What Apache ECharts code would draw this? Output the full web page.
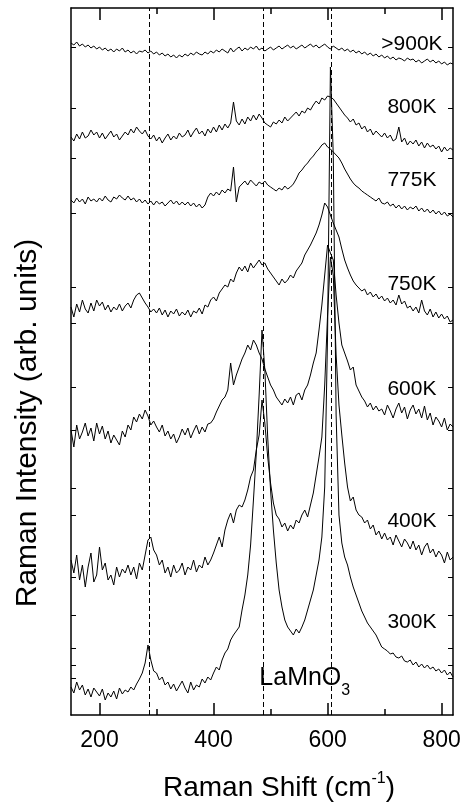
<!DOCTYPE html>
<html>
<head>
<meta charset="utf-8">
<title>Raman spectra LaMnO3</title>
<script src="https://cdn.jsdelivr.net/npm/echarts@6.0.0/dist/echarts.min.js"></script>
<style>
  html, body { margin: 0; padding: 0; background: #fff; }
  #main { width: 463px; height: 807px; }
</style>
</head>
<body>
<div id="main"></div>
<script>
// Raman shift sampling (cm-1)
var ramanShift = [
	150,155,160,165,170,175,180,185,190,195,
	200,205,210,215,220,225,230,235,240,245,
	250,255,260,265,270,275,280,285,290,295,
	300,305,310,315,320,325,330,335,340,345,
	350,355,360,365,370,375,380,385,390,395,
	400,405,410,415,420,425,430,435,440,445,
	450,455,460,465,470,475,480,485,490,495,
	500,505,510,515,520,525,530,535,540,545,
	550,555,560,565,570,575,580,585,590,595,
	600,605,610,615,620,625,630,635,640,645,
	650,655,660,665,670,675,680,685,690,695,
	700,705,710,715,720,725,730,735,740,745,
	750,755,760,765,770,775,780,785,790,795,
	800,805,810,815,820
];

// 强度(已叠加偏移, arb. units)
var t900 = [
	672,670,673,669,671,668,670,667,669,666,
	668,665,667,664,666,663,666,664,667,663,
	665,662,664,661,664,663,665,662,664,661,
	663,660,662,659,661,658,660,657,660,658,
	661,659,662,660,663,661,660,663,661,664,
	662,665,663,666,664,662,667,663,666,668,
	664,667,665,668,666,669,665,667,664,666,
	668,665,667,669,666,668,670,667,669,666,
	668,670,667,669,671,668,670,667,669,671,
	668,666,669,667,665,667,664,666,663,665,
	662,664,661,663,660,662,659,661,658,660,
	657,659,656,658,655,657,656,654,657,655,
	656,653,655,652,654,656,653,655,652,654,
	651,653,650,652,651
];
var t800 = [
	578,574,581,576,583,577,579,585,580,583,
	577,582,576,580,584,578,581,575,579,583,
	580,586,582,588,584,581,585,579,576,580,
	574,578,572,577,581,575,579,576,582,578,
	580,585,578,583,587,581,584,579,586,582,
	588,583,590,585,591,587,592,613,594,590,
	596,591,598,594,600,595,601,597,592,590,
	588,593,591,595,592,598,594,597,600,603,
	599,604,602,607,605,610,614,611,617,615,
	619,618,616,612,608,604,600,597,593,596,
	590,592,586,589,583,586,580,584,581,578,
	582,577,580,574,576,588,573,577,570,574,
	571,575,569,573,567,572,568,570,566,569,
	563,568,564,567,565
];
var t775 = [
	515,512,517,513,516,511,518,514,516,513,
	517,514,519,515,513,518,516,520,517,515,
	519,515,517,513,516,512,515,511,514,510,
	514,511,513,509,512,515,511,514,510,513,
	510,513,509,512,508,511,507,510,518,522,
	519,523,520,525,522,526,524,548,513,528,
	531,534,530,535,532,529,533,531,534,530,
	528,526,524,527,525,529,526,528,531,536,
	542,545,549,552,556,559,563,566,570,572,
	568,566,563,560,557,552,546,541,536,532,
	529,527,524,522,520,518,516,514,517,512,
	511,513,509,511,507,510,506,509,505,508,
	506,509,504,507,503,506,502,505,501,504,
	500,503,499,501,498
];
var t750 = [
	408,398,411,403,415,406,402,412,404,415,
	409,413,405,410,403,408,405,411,404,409,
	412,407,415,420,422,417,412,408,403,406,
	402,407,400,405,398,404,401,406,399,403,
	400,405,398,404,402,407,401,410,408,415,
	418,414,422,426,430,428,436,433,442,448,
	444,449,443,452,447,451,455,450,452,446,
	442,438,434,430,436,432,435,440,437,444,
	448,452,460,465,470,476,482,490,500,512,
	508,500,492,485,478,466,455,447,440,434,
	430,427,424,426,420,423,418,421,416,419,
	414,417,412,415,410,420,411,414,407,409,
	404,408,402,415,404,400,406,398,403,397,
	401,396,399,393,395
];
var t600 = [
	285,268,290,276,283,292,279,287,274,292,
	281,289,276,284,272,280,275,270,284,278,
	290,285,298,293,301,296,305,299,290,294,
	288,283,290,279,284,276,281,272,278,286,
	280,287,277,284,290,281,288,283,291,292,
	296,303,309,315,318,325,352,330,340,348,
	356,362,370,365,375,370,362,356,346,338,
	330,325,318,314,310,316,312,318,310,320,
	322,315,325,330,340,352,362,385,410,440,
	470,462,455,420,392,370,362,354,345,348,
	330,324,318,314,308,312,305,309,304,306,
	300,310,304,297,306,312,302,308,296,305,
	310,301,306,297,309,295,302,290,298,294,
	288,297,285,291,288
];
var t400 = [
	155,142,160,135,150,128,148,162,133,140,
	168,145,152,135,140,130,148,138,146,142,
	150,140,148,136,152,145,160,175,178,165,
	160,150,155,142,148,138,150,142,145,152,
	140,148,145,155,143,150,147,158,150,155,
	162,170,178,168,185,195,202,192,205,210,
	208,215,225,238,245,265,280,315,292,258,
	232,212,200,196,188,192,184,190,186,195,
	192,200,205,198,210,222,240,258,278,330,
	400,458,440,360,310,280,252,228,214,218,
	205,200,198,192,195,186,190,180,184,176,
	182,175,178,170,180,174,168,176,172,166,
	174,165,170,160,168,172,162,166,158,164,
	160,152,163,155,158
];
var t300 = [
	28,22,33,25,30,20,26,18,27,23,
	19,26,15,22,18,24,16,27,21,25,
	23,28,25,31,36,42,52,70,55,44,
	42,35,38,30,33,26,31,24,29,34,
	27,22,33,25,30,28,36,32,38,35,
	42,48,45,55,62,66,75,80,84,88,
	105,120,140,170,215,262,320,385,345,278,
	225,185,152,125,108,95,88,84,80,86,
	82,88,95,105,115,125,140,155,178,228,
	380,648,560,300,200,172,158,150,138,128,
	120,112,104,98,92,88,84,80,74,68,
	66,64,61,62,58,57,59,54,53,55,
	50,53,48,51,47,50,46,48,44,46,
	42,45,40,43,38
];

var tempNames = ['>900K', '800K', '775K', '750K', '600K', '400K', '300K'];
var spectra = [t900, t800, t775, t750, t600, t400, t300];

// 声子模式位置 (虚线)
var modeLines = [287, 487, 607];

// 刻度
var majorTicks = [200, 400, 600, 800];
var minorTicks = [300, 500, 700];
var yTicks = [668, 607, 557, 502, 428, 392, 328, 285, 227, 200, 138, 100, 67, 50, 37];

// 温度标签位置 (data coords)
var labelShift = 748;
var labelLevel = [671, 608, 535, 431, 326, 194, 93];
var sampleLabelPos = [560, 37];

var FONT = 'Arial, "Liberation Sans", Helvetica, sans-serif';

function toPairs(vals) {
	var out = [];
	for (var i = 0; i < ramanShift.length; i++) {
		out.push([ramanShift[i], vals[i]]);
	}
	return out;
}

function xAxisOf(pos, ticks, len, showLine, showLabel) {
	return {
		type : 'value',
		position : pos,
		min : 150,
		max : 820,
		axisLine : { show : showLine, onZero : false, lineStyle : { color : '#000', width : 1.5 } },
		axisTick : { show : true, inside : true, length : len, customValues : ticks,
			lineStyle : { color : '#000', width : 1.5 } },
		axisLabel : { show : showLabel, customValues : ticks, margin : 14,
			color : '#000', fontSize : 23, fontFamily : FONT },
		splitLine : { show : false }
	};
}

function yAxisOf(pos) {
	return {
		type : 'value',
		position : pos,
		min : 0,
		max : 707,
		axisLine : { show : true, onZero : false, lineStyle : { color : '#000', width : 1.5 } },
		axisTick : { show : true, inside : true, length : 5, customValues : yTicks,
			lineStyle : { color : '#000', width : 1 } },
		axisLabel : { show : false },
		splitLine : { show : false }
	};
}

var series = [];
for (var k = 0; k < spectra.length; k++) {
	var s = {
		name : tempNames[k],
		type : 'line',
		data : toPairs(spectra[k]),
		showSymbol : false,
		symbol : 'none',
		clip : false,
		lineStyle : { color : '#000', width : 1 },
		emphasis : { disabled : true },
		markPoint : {
			symbol : 'rect',
			symbolSize : 1,
			silent : true,
			itemStyle : { color : 'rgba(0,0,0,0)' },
			label : { show : true, position : 'inside', color : '#000',
				fontSize : 21, fontFamily : FONT },
			data : [ { name : tempNames[k], coord : [labelShift, labelLevel[k]],
				label : { formatter : tempNames[k] } } ]
		}
	};
	series.push(s);
}

// 虚线
var dashData = [];
for (var d = 0; d < modeLines.length; d++) {
	dashData.push({ xAxis : modeLines[d] });
}
series[0].markLine = {
	silent : true,
	symbol : ['none', 'none'],
	label : { show : false },
	lineStyle : { color : '#000', width : 1, type : [5, 3] },
	data : dashData
};

// LaMnO3 标签
series[6].markPoint.data.push({
	name : 'LaMnO3',
	coord : sampleLabelPos,
	label : {
		formatter : '{a|LaMnO}{s|3}',
		rich : {
			a : { fontSize : 25, fontFamily : FONT, color : '#000', lineHeight : 30 },
			s : { fontSize : 16, fontFamily : FONT, color : '#000', lineHeight : 16, padding : [26, 0, 0, 0] }
		}
	}
});

var bottomAxis = xAxisOf('bottom', majorTicks, 12, true, true);
bottomAxis.name = '{b|Raman Shift (cm}{sup|-1}{b|)}';
bottomAxis.nameLocation = 'middle';
bottomAxis.nameGap = 56;
bottomAxis.nameTextStyle = {
	padding : [0, 0, 0, 34],
	rich : {
		b : { fontSize : 28, fontFamily : FONT, color : '#000', lineHeight : 34 },
		sup : { fontSize : 16, fontFamily : FONT, color : '#000', lineHeight : 16, padding : [0, 0, 18, 0] }
	}
};

var option = {
	animation : false,
	backgroundColor : '#fff',
	grid : { left : 71, right : 10, top : 8, bottom : 92, containLabel : false, outerBoundsMode : 'none' },
	xAxis : [
		bottomAxis,
		xAxisOf('bottom', minorTicks, 6, false, false),
		xAxisOf('top', majorTicks, 12, true, false),
		xAxisOf('top', minorTicks, 6, false, false)
	],
	yAxis : [ yAxisOf('left'), yAxisOf('right') ],
	graphic : [ {
		type : 'text',
		x : 28,
		y : 423,
		rotation : Math.PI / 2,
		silent : true,
		style : {
			text : 'Raman Intensity (arb. units)',
			fontSize : 30,
			fontFamily : FONT,
			fill : '#000',
			align : 'center',
			verticalAlign : 'middle'
		}
	} ],
	series : series
};

var myChart = echarts.init(document.getElementById('main'));
myChart.setOption(option);

window.addEventListener('resize', function() {
	myChart.resize();
});
</script>
</body>
</html>
